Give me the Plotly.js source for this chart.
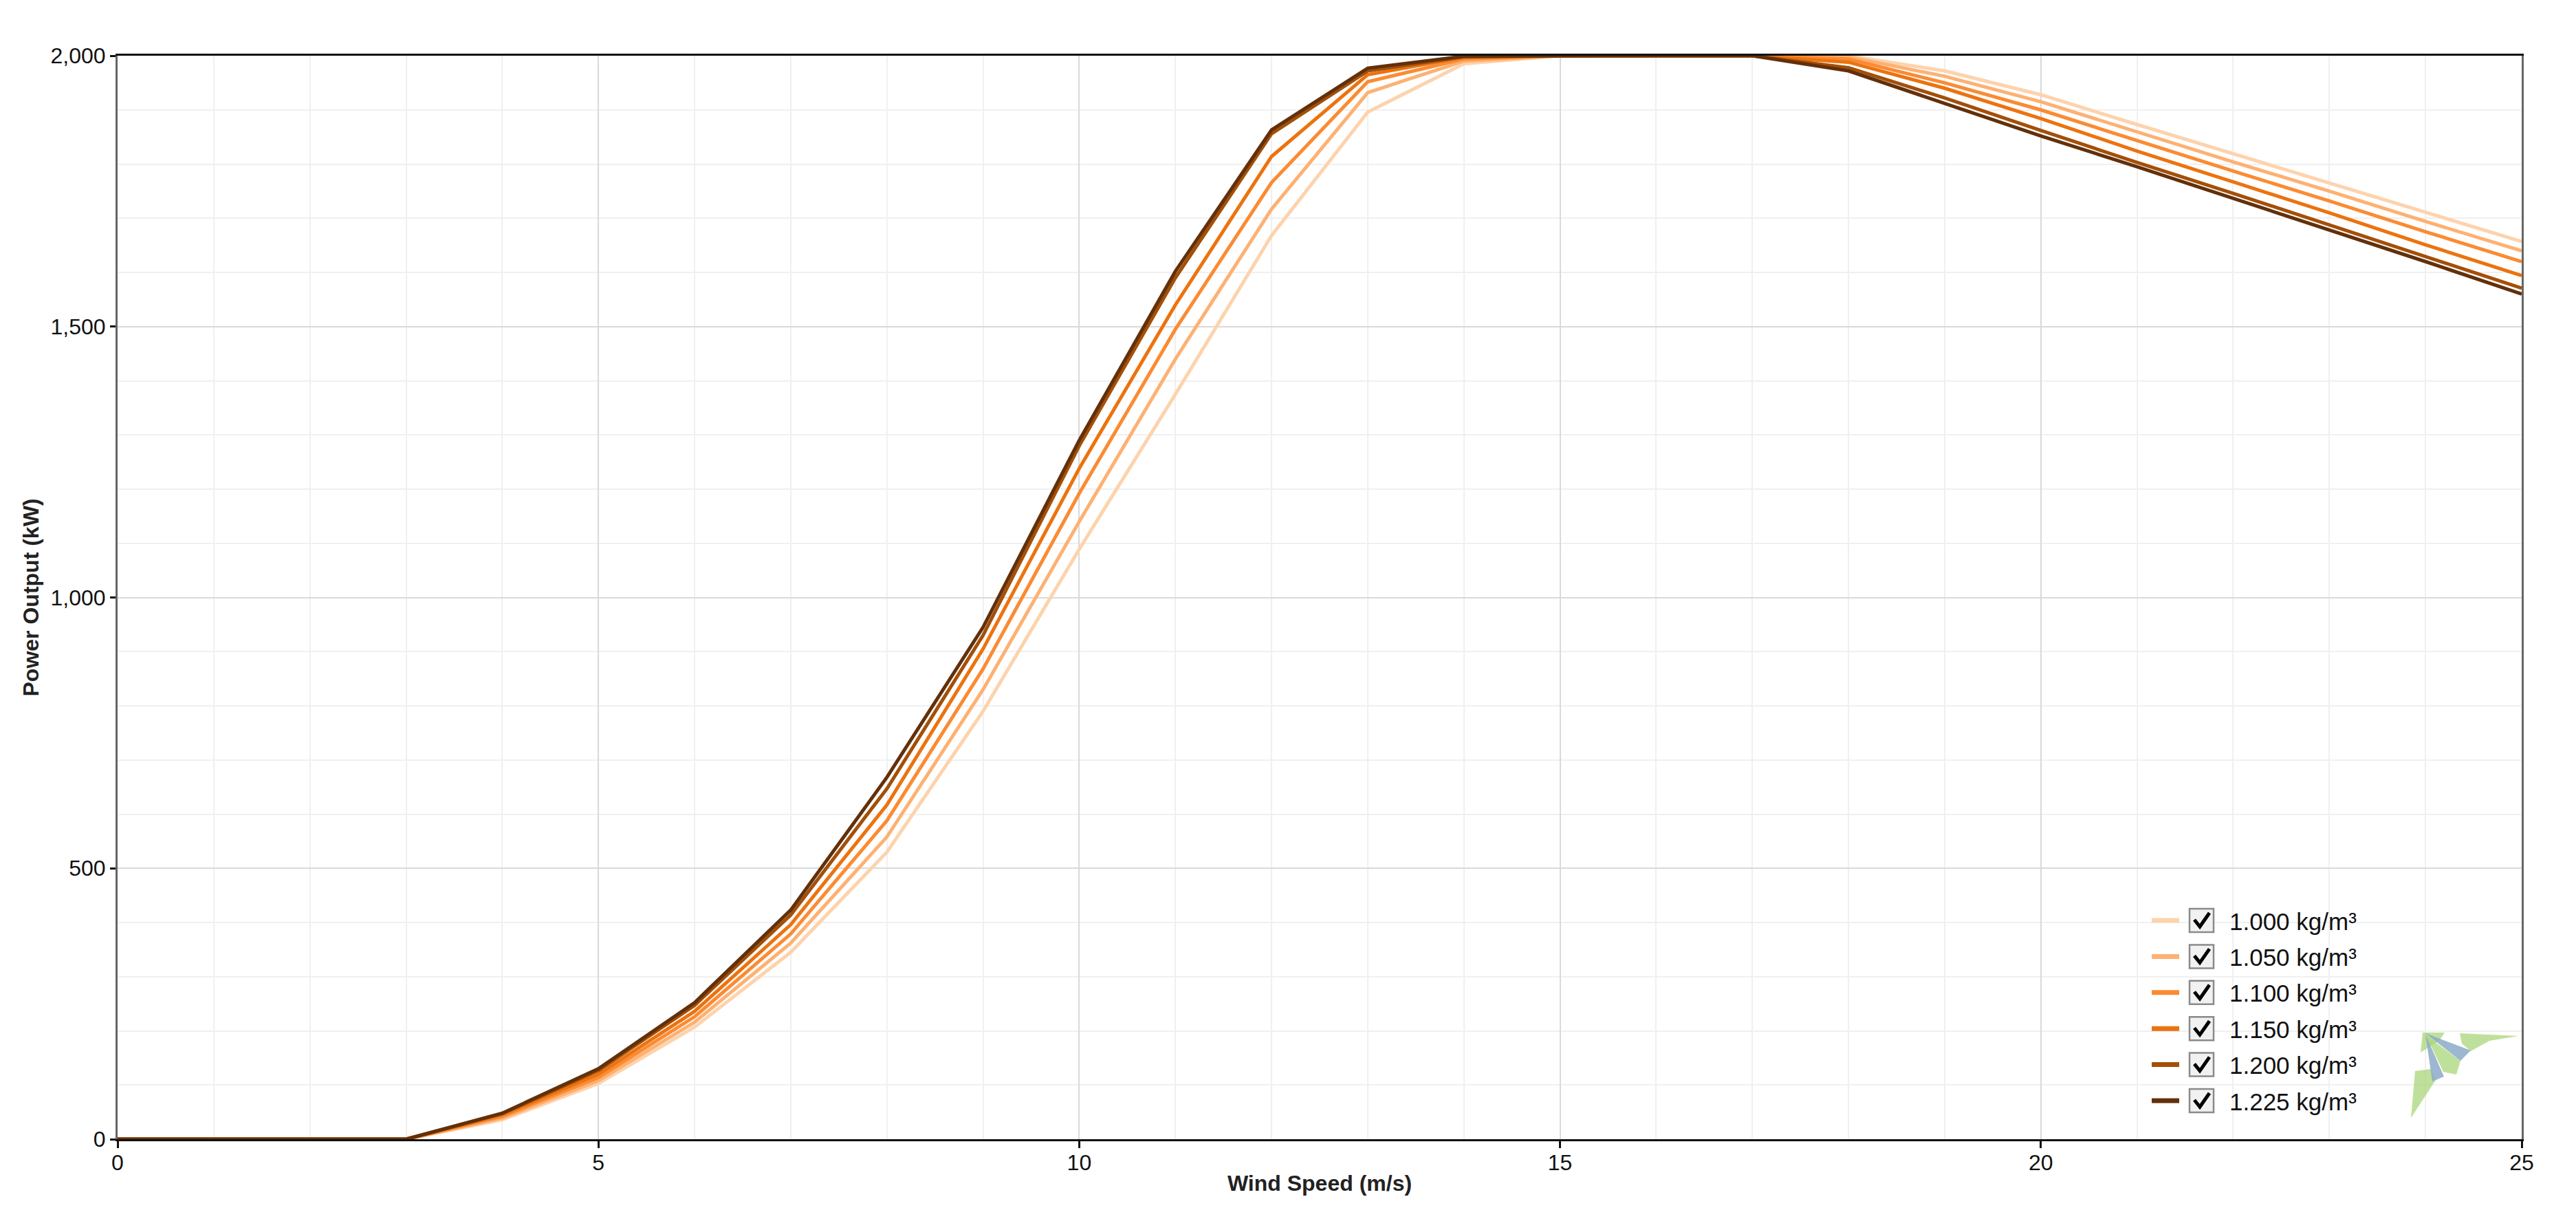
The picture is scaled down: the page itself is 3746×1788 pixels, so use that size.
<!DOCTYPE html>
<html>
<head>
<meta charset="utf-8">
<script src="https://cdn.plot.ly/plotly-3.0.1.min.js"></script>
<style>
  html, body { margin: 0; padding: 0; background: #ffffff; }
  #chart { width: 3746px; height: 1788px; }
</style>
</head>
<body>
<div id="chart"></div>
<script>
// ---- Data ----
const windSpeed = [0,1,2,3,4,5,6,7,8,9,10,11,12,13,14,15,16,17,18,19,20,21,22,23,24,25];

const seriesNames = ['1.000 kg/m³','1.050 kg/m³','1.100 kg/m³','1.150 kg/m³','1.200 kg/m³','1.225 kg/m³'];

const power1000 = [0,0,0,0,36,103,207,345,530,790,1089,1375,1668,1896,1985,2000,2000,2000,2000,1972,1928,1873,1819,1766,1711,1657];
const power1050 = [0,0,0,0,39,108,216,362,558,830,1140,1440,1717,1932,1990,2000,2000,2000,1998,1962,1915,1859,1804,1750,1694,1640];
const power1100 = [0,0,0,0,42,114,226,379,588,868,1192,1495,1766,1952,1994,2000,2000,2000,1994,1950,1900,1843,1787,1732,1675,1620];
const power1150 = [0,0,0,0,45,120,236,396,617,905,1238,1540,1814,1965,1997,2000,2000,2000,1988,1940,1884,1824,1767,1710,1651,1594];
const power1200 = [0,0,0,0,47,127,247,414,647,930,1280,1590,1856,1972,1998,2000,2000,2000,1978,1922,1862,1803,1746,1688,1629,1571];
const power1225 = [0,0,0,0,48,130,252,423,668,945,1290,1602,1863,1977,1999,2000,2000,2000,1972,1912,1852,1795,1737,1679,1620,1560];

const seriesValues = [power1000, power1050, power1100, power1150, power1200, power1225];
const seriesColors = ['#FDD3AD', '#FDB172', '#FB8B33', '#EC730F', '#A44F08', '#62300A'];

// ---- Layout geometry (pixels) ----
const W = 3746, H = 1788;
const M = { l: 171, r: 79, t: 81, b: 132 };
const plotW = W - M.l - M.r;
const plotH = H - M.t - M.b;
const px = x => (x - M.l) / plotW;              // pixel x -> paper x
const py = y => (H - M.b - y) / plotH;          // pixel y -> paper y

const FONT = 'Liberation Sans, Arial, sans-serif';

const traces = seriesValues.map((vals, i) => ({
  type: 'scatter',
  mode: 'lines',
  x: windSpeed,
  y: vals,
  name: seriesNames[i],
  line: { color: seriesColors[i], width: 5 },
  showlegend: false,
  hoverinfo: 'x+y+name'
}));

// ---- Custom legend with check boxes ----
const shapes = [];
const annotations = [];
const rowY0 = 1338, rowStep = 52.4;
seriesNames.forEach((name, i) => {
  const cy = rowY0 + i * rowStep;
  // line symbol
  shapes.push({
    type: 'line', xref: 'paper', yref: 'paper',
    x0: px(3129), x1: px(3169), y0: py(cy), y1: py(cy),
    line: { color: seriesColors[i], width: 7 }
  });
  // checkbox
  shapes.push({
    type: 'rect', xref: 'paper', yref: 'paper',
    x0: px(3184), x1: px(3219), y0: py(cy - 17), y1: py(cy + 17),
    line: { color: '#8a8a8a', width: 2.5 }, fillcolor: '#f1f1f1'
  });
  // check mark
  const p = (x, y) => px(x) + ',' + py(y);
  shapes.push({
    type: 'path', xref: 'paper', yref: 'paper',
    path: 'M' + p(3191, cy - 1) + ' L' + p(3199, cy + 9) + ' L' + p(3213, cy - 11),
    line: { color: '#000000', width: 5 }
  });
  annotations.push({
    xref: 'paper', yref: 'paper', x: px(3240), y: py(cy + 1),
    xanchor: 'left', yanchor: 'middle', showarrow: false,
    text: name, font: { family: FONT, size: 35, color: '#111111' }
  });
});

// ---- Logo (decorative) ----
const logoGreen = 'rgba(170, 214, 120, 0.75)';
const logoBlue = 'rgba(140, 170, 200, 0.85)';
const poly = pts => 'M' + pts.map(q => px(q[0]) + ',' + py(q[1])).join(' L') + ' Z';
const logoParts = [
  { c: logoGreen, pts: [[3523,1501],[3555,1501],[3547,1513],[3520,1530]] },
  { c: logoGreen, pts: [[3577,1502],[3662,1506],[3620,1513],[3593,1528],[3580,1517]] },
  { c: logoGreen, pts: [[3528,1505],[3578,1542],[3572,1562],[3553,1558]] },
  { c: logoGreen, pts: [[3512,1557],[3535,1554],[3542,1570],[3506,1625]] },
  { c: logoBlue, pts: [[3527,1502],[3593,1527],[3578,1542]] },
  { c: logoBlue, pts: [[3527,1503],[3554,1565],[3537,1572]] }
];
logoParts.forEach(part => shapes.push({
  type: 'path', xref: 'paper', yref: 'paper', path: poly(part.pts),
  fillcolor: part.c, line: { width: 0 }, layer: 'above'
}));

const layout = {
  width: W, height: H,
  margin: M,
  paper_bgcolor: '#ffffff',
  plot_bgcolor: '#ffffff',
  showlegend: false,
  font: { family: FONT, size: 32, color: '#111111' },
  xaxis: {
    range: [0, 25],
    dtick: 5, tick0: 0,
    showgrid: true, gridcolor: '#d9d9d9', gridwidth: 2,
    minor: { dtick: 1, showgrid: true, gridcolor: '#f0f0f0', gridwidth: 2 },
    zeroline: false,
    showline: true, linecolor: '#111111', linewidth: 3, mirror: true,
    ticks: 'outside', ticklen: 10, tickwidth: 3, tickcolor: '#111111',
    ticklabelstandoff: -6,
    tickfont: { family: FONT, size: 32, color: '#111111' },
    title: { text: '<b>Wind Speed (m/s)</b>', font: { family: FONT, size: 32, color: '#222222' }, standoff: 2 },
    fixedrange: true
  },
  yaxis: {
    range: [0, 2000],
    dtick: 500, tick0: 0,
    tickformat: ',d',
    showgrid: true, gridcolor: '#d9d9d9', gridwidth: 2,
    minor: { dtick: 100, showgrid: true, gridcolor: '#f0f0f0', gridwidth: 2 },
    zeroline: false,
    showline: true, linecolor: '#666666', linewidth: 3, mirror: true,
    ticks: 'outside', ticklen: 8, tickwidth: 3, tickcolor: '#111111',
    tickfont: { family: FONT, size: 32, color: '#111111' },
    title: { text: '<b>Power Output (kW)</b>', font: { family: FONT, size: 32, color: '#222222' }, standoff: 8 },
    fixedrange: true
  },
  shapes: shapes,
  annotations: annotations
};

Plotly.newPlot('chart', traces, layout, { displayModeBar: false, staticPlot: true });
</script>
</body>
</html>
